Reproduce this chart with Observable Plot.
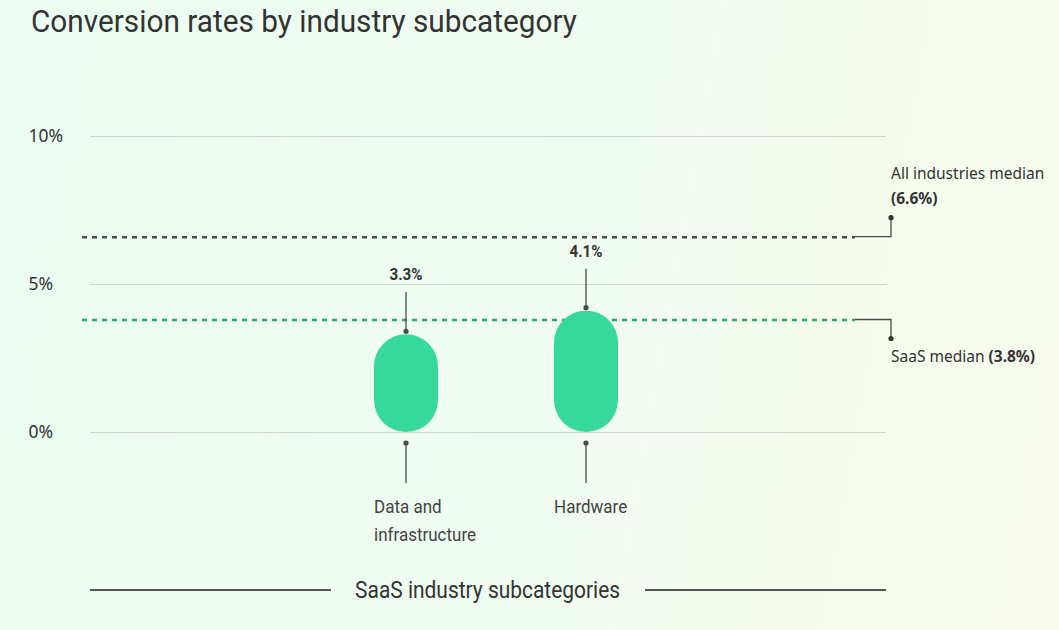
<!DOCTYPE html>
<html>
<head>
<meta charset="utf-8">
<script src="https://cdn.jsdelivr.net/npm/d3@7"></script>
<script src="https://cdn.jsdelivr.net/npm/@observablehq/plot@0.6"></script>
<style>
  html, body { margin: 0; padding: 0; }
  body {
    width: 1059px; height: 630px; overflow: hidden; position: relative;
    background: linear-gradient(100deg, #ebfdf2 0%, #effcf1 45%, #f8fbec 100%);
    color: #333;
  }
  .narrow { font-family: Roboto, "Liberation Sans", sans-serif; }
  #title { height: 50px; box-sizing: border-box; padding: 1px 0 0 31px; font-size: 32px; line-height: 40px; color: #333; }
  #title span { display: inline-block; transform: scaleX(0.93); transform-origin: left center; }
  #chart svg { display: block; }
  #caption {
    position: absolute; top: 577px; left: 90px; width: 796px; height: 26px;
    display: flex; align-items: center; font-size: 23px; color: #333;
  }
  #caption .line { flex: 1; height: 2px; background: #555; }
  #caption .txt { display: inline-block; padding: 0 11px; transform: scaleX(0.91); transform-origin: center; }
</style>
</head>
<body>
<div id="title" class="narrow"><span>Conversion rates by industry subcategory</span></div>
<div id="chart"></div>
<div id="caption" class="narrow"><span class="line"></span><span class="txt">SaaS industry subcategories</span><span class="line"></span></div>
<script>
// SaaS subcategories and their conversion rates (%)
const categories = ["Data and infrastructure", "Hardware"];
const categoryLines = [["Data and", "infrastructure"], ["Hardware"]];
const rates = [3.3, 4.1];

// Reference medians (%)
const medianNames = ["All industries median", "SaaS median"];
const medianValues = [6.6, 3.8];
const medianColors = ["#4d4d4d", "#2aa873"];

// Y-axis ticks (%)
const yTicks = [0, 5, 10];

const bars = categories.map((c, i) => ({category: c, rate: rates[i], lines: categoryLines[i]}));
const medians = medianNames.map((n, i) => ({name: n, value: medianValues[i], color: medianColors[i]}));

const sans = "'Noto Sans', 'Open Sans', sans-serif";
const narrow = "Roboto, 'Liberation Sans', sans-serif";
const squeeze = 0.92; // horizontal compression for the condensed labels

const plot = Plot.plot({
  width: 1059,
  height: 520,
  marginTop: 86,
  marginBottom: 138,
  marginLeft: 90,
  marginRight: 173,
  style: {background: "transparent", overflow: "visible", fontFamily: sans, color: "#333"},
  x: {type: "band", domain: categories, paddingInner: 0.646, paddingOuter: 1.522, align: 0.515, axis: null},
  y: {domain: [0, 10], axis: null},
  marks: [
    Plot.ruleY(yTicks, {stroke: "#cfd6d0", strokeWidth: 1}),
    Plot.text(yTicks, {y: d => d, text: d => d + "%", frameAnchor: "left", textAnchor: "start", dx: -62, fontSize: 17.5, fill: "#333"}),
    ...medians.map(m => Plot.ruleY([m], {y: "value", stroke: m.color, strokeWidth: 2.5, strokeDasharray: "5,5", insetLeft: -8, insetRight: 31})),
    Plot.barY(bars, {x: "category", y: "rate", fill: "#37d99a", rx: 32, ry: 32})
  ]
});
document.getElementById("chart").appendChild(plot);

// Leaders, value labels and median call-outs, positioned from the chart's scales
const svg = d3.select(plot);
const xs = plot.scale("x"), ys = plot.scale("y");
const bw = xs.bandwidth;
const frameRight = 1059 - 173;
const g = svg.append("g").attr("text-anchor", "start");
const ink = "#4a4a4a";

bars.forEach(b => {
  const cx = xs.apply(b.category) + bw / 2;
  const top = ys.apply(b.rate);
  const y0 = ys.apply(0);
  // value above the bar
  g.append("line").attr("x1", cx).attr("x2", cx).attr("y1", top - 3).attr("y2", top - 42)
    .attr("stroke", ink).attr("stroke-width", 1.3);
  g.append("circle").attr("cx", cx).attr("cy", top - 3).attr("r", 2.6).attr("fill", ink);
  g.append("text").attr("transform", `translate(${cx},${top - 54}) scale(${squeeze},1)`)
    .attr("text-anchor", "middle")
    .attr("font-family", narrow).attr("font-weight", "bold")
    .attr("font-size", 16.5).attr("fill", "#333").text(b.rate.toFixed(1) + "%");
  // category label below the baseline
  g.append("line").attr("x1", cx).attr("x2", cx).attr("y1", y0 + 11).attr("y2", y0 + 51)
    .attr("stroke", ink).attr("stroke-width", 1.3);
  g.append("circle").attr("cx", cx).attr("cy", y0 + 11).attr("r", 2.6).attr("fill", ink);
  const t = g.append("text").attr("transform", `translate(${cx - bw / 2},${y0 + 81}) scale(${squeeze},1)`)
    .attr("font-family", narrow).attr("font-size", 18.5).attr("fill", "#444");
  b.lines.forEach((ln, k) => {
    t.append("tspan").attr("x", 0).attr("y", k * 28).text(ln);
  });
});

// Median call-outs on the right
const dashEnd = frameRight - 31;
const anchorX = frameRight + 5;
medians.forEach((m, i) => {
  const y = ys.apply(m.value);
  const up = i === 0;
  const yDot = up ? y - 19 : y + 19;
  g.append("path").attr("d", `M${dashEnd},${y}H${anchorX}V${yDot}`)
    .attr("fill", "none").attr("stroke", ink).attr("stroke-width", 1.3);
  g.append("circle").attr("cx", anchorX).attr("cy", yDot).attr("r", 2.6).attr("fill", "#333");
  const t = g.append("text").attr("font-family", sans).attr("font-size", 15.5).attr("fill", "#333");
  const pct = "(" + m.value.toFixed(1) + "%)";
  if (up) {
    t.append("tspan").attr("x", anchorX).attr("y", y - 58).text(m.name);
    t.append("tspan").attr("x", anchorX).attr("y", y - 33).attr("font-weight", "bold").text(pct);
  } else {
    t.append("tspan").attr("x", anchorX).attr("y", y + 42).text(m.name + " ");
    t.append("tspan").attr("font-weight", "bold").text(pct);
  }
});
</script>
</body>
</html>
